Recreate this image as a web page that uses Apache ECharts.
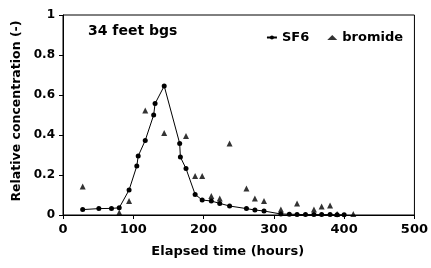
<!DOCTYPE html>
<html>
<head>
<meta charset="utf-8">
<script src="https://cdn.jsdelivr.net/npm/echarts@6/dist/echarts.min.js"></script>
<style>
  html, body { margin: 0; padding: 0; background: #fff; }
  #main { width: 431px; height: 268px; }
</style>
</head>
<body>
<div id="main"></div>
<script>
// SF6 tracer, hours vs relative concentration
var sf6Time = [28, 51, 69, 80, 94, 105, 107, 117, 129, 131, 144, 166, 167, 175, 188, 198, 211, 223, 237, 261, 273, 286, 310, 322, 333, 345, 357, 368, 380, 390, 400];
var sf6Conc = [0.027, 0.032, 0.033, 0.036, 0.125, 0.245, 0.295, 0.373, 0.50, 0.557, 0.645, 0.358, 0.29, 0.232, 0.103, 0.075, 0.07, 0.058, 0.045, 0.032, 0.025, 0.02, 0.005, 0.004, 0.003, 0.002, 0.002, 0.002, 0.002, 0.001, 0.001];

// bromide
var brTime = [28, 80, 94, 117, 144, 175, 188, 198, 211, 223, 237, 261, 273, 286, 310, 333, 357, 368, 380, 390, 413];
var brConc = [0.142, 0.012, 0.07, 0.523, 0.41, 0.395, 0.195, 0.195, 0.095, 0.082, 0.357, 0.132, 0.083, 0.07, 0.028, 0.057, 0.028, 0.042, 0.048, 0.005, 0.005];

var xTicks = [0, 100, 200, 300, 400, 500];
var yTicks = [0, 0.2, 0.4, 0.6, 0.8, 1];

function pairs(xs, ys) {
    return xs.map(function (x, i) { return [x, ys[i]]; });
}

var font = 'DejaVu Sans, Liberation Sans, sans-serif';
var myChart = echarts.init(document.getElementById('main'));

option = {
    backgroundColor: '#fff',
    animation: false,
    textStyle: { fontFamily: font },
    grid: { left: 63, right: 13, top: 15, bottom: 53, show: true, borderColor: '#000', borderWidth: 1 },
    legend: {
        top: 26,
        right: 23,
        itemGap: 18,
        itemWidth: 10,
        itemHeight: 5,
        textStyle: { fontFamily: font, fontWeight: 'bold', fontSize: 13, color: '#000' },
        data: ['SF6', 'bromide']
    },
    graphic: [{
        type: 'text',
        left: 88,
        top: 24,
        style: { text: '34 feet bgs', fontFamily: font, fontWeight: 'bold', fontSize: 14, fill: '#000' }
    }],
    xAxis: {
        type: 'value',
        min: xTicks[0],
        max: xTicks[xTicks.length - 1],
        interval: 100,
        name: 'Elapsed time (hours)',
        nameLocation: 'middle',
        nameGap: 30,
        nameTextStyle: { fontFamily: font, fontWeight: 'bold', fontSize: 13, color: '#000', padding: [0, 22, 0, 0] },
        axisLine: { lineStyle: { color: '#000', width: 1 } },
        axisTick: { show: true, length: 4, lineStyle: { color: '#000' } },
        axisLabel: { fontFamily: font, fontWeight: 'bold', fontSize: 13, color: '#000', margin: 8 },
        splitLine: { show: false }
    },
    yAxis: {
        type: 'value',
        min: yTicks[0],
        max: yTicks[yTicks.length - 1],
        interval: 0.2,
        name: 'Relative concentration (-)',
        nameLocation: 'middle',
        nameGap: 38,
        nameTextStyle: { fontFamily: font, fontWeight: 'bold', fontSize: 12.5, color: '#000', padding: [0, 0, 0, 8] },
        axisLine: { show: true, lineStyle: { color: '#000', width: 1 } },
        axisTick: { show: true, length: 4, lineStyle: { color: '#000' } },
        axisLabel: {
            fontFamily: font, fontWeight: 'bold', fontSize: 12, color: '#000', margin: 8,
            formatter: function (v) { return String(Math.round(v * 10) / 10); }
        },
        splitLine: { show: false }
    },
    series: [
        {
            name: 'SF6',
            type: 'line',
            data: pairs(sf6Time, sf6Conc),
            symbol: 'circle',
            symbolSize: 5,
            showAllSymbol: true,
            lineStyle: { color: '#000', width: 1 },
            itemStyle: { color: '#000' }
        },
        {
            name: 'bromide',
            type: 'scatter',
            data: pairs(brTime, brConc),
            symbol: 'triangle',
            symbolSize: 6,
            itemStyle: { color: '#000' }
        }
    ]
};

myChart.setOption(option);
</script>
</body>
</html>
